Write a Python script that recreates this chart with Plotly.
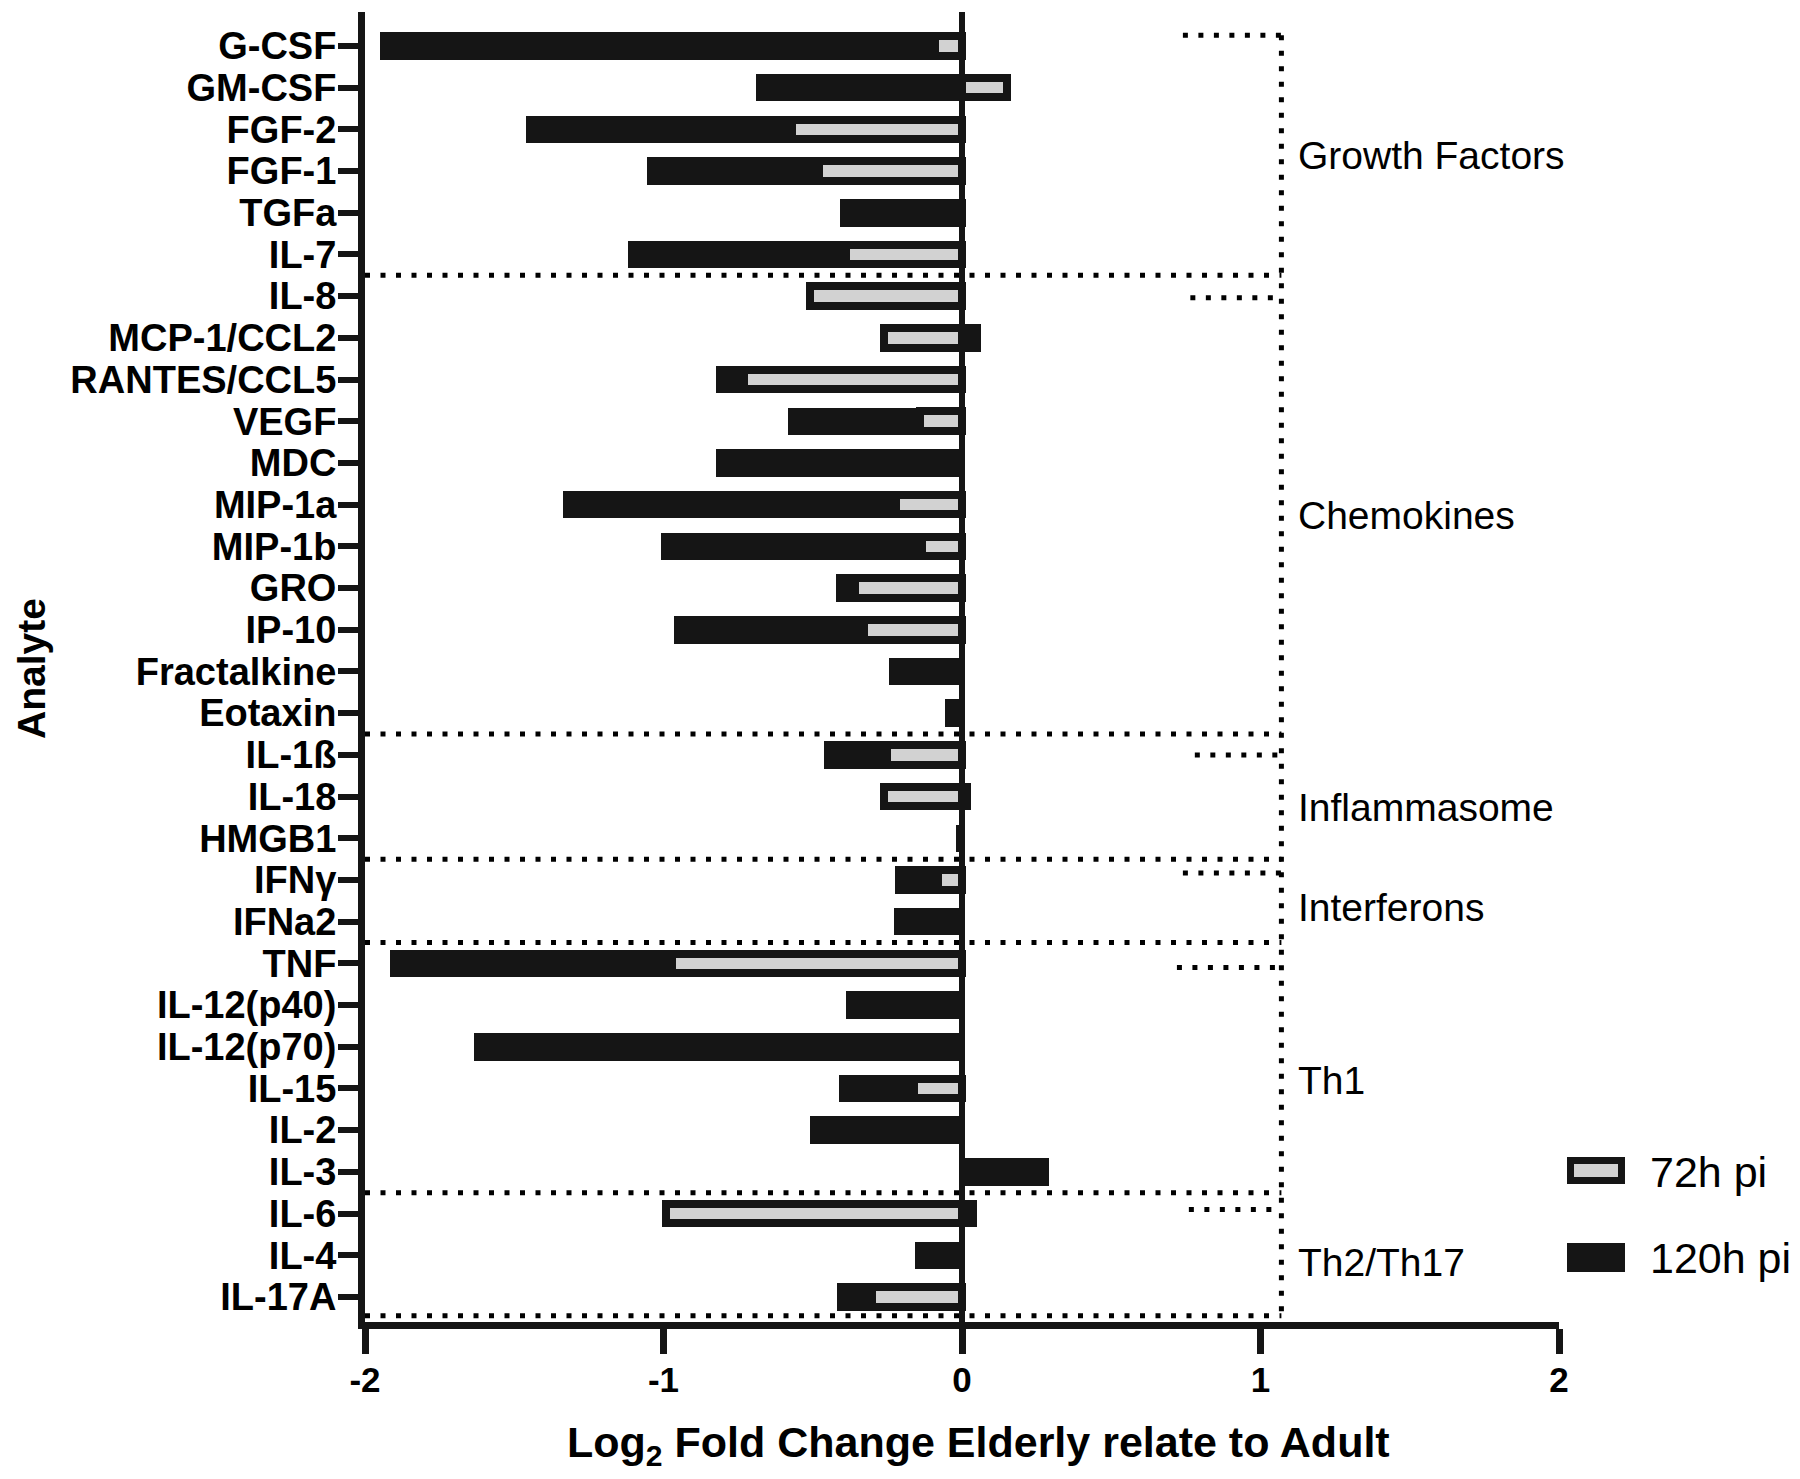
import plotly.graph_objects as go

# ---------------- data ----------------
analytes = ["G-CSF", "GM-CSF", "FGF-2", "FGF-1", "TGFa", "IL-7",
            "IL-8", "MCP-1/CCL2", "RANTES/CCL5", "VEGF", "MDC", "MIP-1a", "MIP-1b",
            "GRO", "IP-10", "Fractalkine", "Eotaxin",
            "IL-1ß", "IL-18", "HMGB1",
            "IFNγ", "IFNa2",
            "TNF", "IL-12(p40)", "IL-12(p70)", "IL-15", "IL-2", "IL-3",
            "IL-6", "IL-4", "IL-17A"]

log2fc_72h = [-0.09, 0.15, -0.57, -0.48, -0.02, -0.39,
              -0.51, -0.26, -0.73, -0.14, None, -0.22, -0.135,
              -0.36, -0.33, None, None,
              -0.25, -0.26, None,
              -0.08, None,
              -0.97, None, None, -0.16, None, None,
              -0.99, None, -0.30]

log2fc_120h = [-1.95, -0.69, -1.46, -1.056, -0.41, -1.12,
               -0.45, 0.063, -0.824, -0.584, -0.824, -1.336, -1.008,
               -0.422, -0.966, -0.244, -0.057,
               -0.464, 0.03, -0.021,
               -0.225, -0.229,
               -1.915, -0.387, -1.634, -0.412, -0.508, 0.29,
               0.05, -0.158, -0.42]

group_names = ["Growth Factors", "Chemokines", "Inflammasome", "Interferons", "Th1", "Th2/Th17"]
group_last = ["IL-7", "Eotaxin", "HMGB1", "IFNa2", "IL-3", "IL-17A"]

series_names = ["72h pi", "120h pi"]
x_ticks = [-2, -1, 0, 1, 2]

# ---------------- layout helpers ----------------
W, H = 1800, 1479
OFF = 8  # page body margin
L, R, T, B = 365, 1559, 12, 1322   # plot area in page pixels
FONT = "Arial, 'Liberation Sans', Helvetica, sans-serif"
BLACK = "#151515"
GREY = "#d2d2d2"


def px_x(px):
    return (px - L) / (R - L)


def px_y(py):
    return (B - py) / (B - T)


fig = go.Figure()

fig.add_trace(go.Bar(
    y=analytes, x=log2fc_120h, orientation="h", name=series_names[1],
    marker=dict(color=BLACK, line=dict(width=0)), width=0.66,
    showlegend=False,
))
fig.add_trace(go.Bar(
    y=analytes, x=log2fc_72h, orientation="h", name=series_names[0],
    marker=dict(color=GREY, line=dict(color=BLACK, width=8)), width=0.47,
    showlegend=False,
))

shapes = []
dot = dict(color="black", width=5, dash="5px,10.5px")
bracket_x = 1.07
idx = {a: i for i, a in enumerate(analytes)}

short_rows = [-0.26, 6.04, 17.0, 19.83, 22.1, 27.9]
short_x0 = [0.74, 0.765, 0.78, 0.74, 0.72, 0.76]
bottom_sep = 30.45
annotations = []
for gi, name in enumerate(group_names):
    last = idx[group_last[gi]]
    sep = last + 0.5 if gi < len(group_names) - 1 else bottom_sep
    shapes.append(dict(type="line", xref="x", yref="y", x0=-2, x1=bracket_x,
                       y0=sep, y1=sep, line=dot, layer="below"))
    shapes.append(dict(type="line", xref="x", yref="y", x0=short_x0[gi], x1=bracket_x,
                       y0=short_rows[gi], y1=short_rows[gi], line=dot, layer="below"))
    annotations.append(dict(
        x=1.12, y=(short_rows[gi] + sep) / 2, xref="x", yref="y",
        text=name, showarrow=False, xanchor="left", yanchor="middle",
        font=dict(family=FONT, size=39, color="black")))

shapes.append(dict(type="line", xref="x", yref="y", x0=bracket_x, x1=bracket_x,
                   y0=short_rows[0], y1=bottom_sep, line=dot, layer="below"))

# zero line on top
shapes.append(dict(type="line", xref="x", yref="paper", x0=0, x1=0, y0=0, y1=1,
                   line=dict(color=BLACK, width=6), layer="above"))

# custom legend
shapes.append(dict(type="rect", xref="paper", yref="paper",
                   x0=px_x(1570.5), x1=px_x(1621.5), y0=px_y(1180.5), y1=px_y(1160.5),
                   fillcolor=GREY, line=dict(color=BLACK, width=7)))
shapes.append(dict(type="rect", xref="paper", yref="paper",
                   x0=px_x(1567), x1=px_x(1625), y0=px_y(1272), y1=px_y(1243),
                   fillcolor=BLACK, line=dict(width=0)))
annotations.append(dict(x=px_x(1648), y=px_y(1172), xref="paper", yref="paper",
                        text=series_names[0], showarrow=False, xanchor="left", yanchor="middle",
                        font=dict(family=FONT, size=43, color="black")))
annotations.append(dict(x=px_x(1648), y=px_y(1258), xref="paper", yref="paper",
                        text=series_names[1], showarrow=False, xanchor="left", yanchor="middle",
                        font=dict(family=FONT, size=43, color="black")))

# axis titles
annotations.append(dict(x=px_x(978), y=px_y(1445), xref="paper", yref="paper",
                        text="<b>Log<sub>2</sub> Fold Change Elderly relate to Adult</b>",
                        showarrow=False, xanchor="center", yanchor="middle",
                        font=dict(family=FONT, size=43, color="black")))
annotations.append(dict(x=px_x(31), y=px_y(669), xref="paper", yref="paper",
                        text="<b>Analyte</b>", textangle=-90,
                        showarrow=False, xanchor="center", yanchor="middle",
                        font=dict(family=FONT, size=39, color="black")))

fig.update_layout(
    width=W, height=H, autosize=False,
    margin=dict(l=L - OFF, r=W - R + OFF, t=T - OFF, b=H - B + OFF, pad=0),
    paper_bgcolor="white", plot_bgcolor="white",
    barmode="overlay", bargap=0,
    shapes=shapes, annotations=annotations,
    showlegend=False,
    xaxis=dict(range=[-2, 2], tickvals=x_ticks, ticktext=[str(v) for v in x_ticks],
               showgrid=False, zeroline=False, showline=True, linewidth=7, linecolor=BLACK,
               ticks="outside", ticklen=25, tickwidth=7, tickcolor=BLACK,
               ticklabelstandoff=-4,
               tickfont=dict(family=FONT, size=35, color="black", weight="bold")),
    yaxis=dict(type="category", categoryorder="array", categoryarray=analytes,
               tickmode="array", tickvals=analytes, ticktext=analytes,
               range=[30.6, -0.815], showgrid=False, zeroline=False,
               showline=True, linewidth=7, linecolor=BLACK,
               ticks="outside", ticklen=20, tickwidth=6, tickcolor=BLACK,
               ticklabelstandoff=-6,
               tickfont=dict(family=FONT, size=38, color="black", weight="bold")),
)

fig.write_html("out.html")
